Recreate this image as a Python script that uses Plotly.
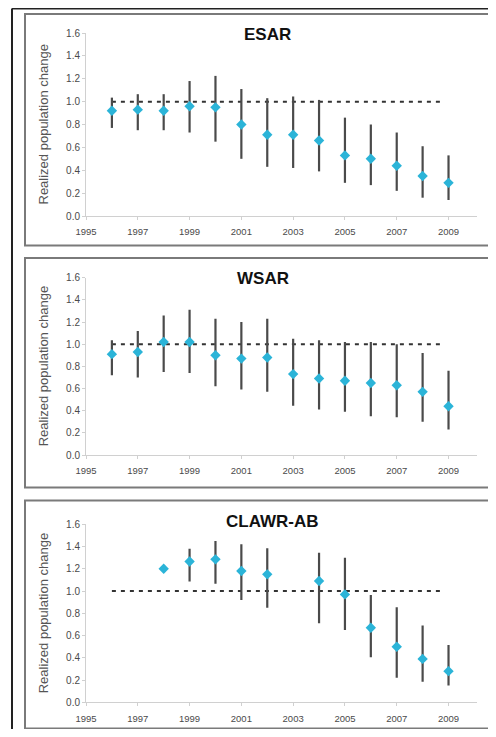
import plotly.graph_objects as go

# page is 496x737; the browser body keeps an 8px margin, so the figure is 480x721
PAGE_OFF = 8
W, H = 480, 721

years = list(range(1996, 2010))
tick_years = [1995, 1997, 1999, 2001, 2003, 2005, 2007, 2009]

esar_mean = [0.92, 0.93, 0.92, 0.96, 0.95, 0.80, 0.71, 0.71, 0.66, 0.53, 0.50, 0.44, 0.35, 0.29]
esar_upper = [1.035, 1.065, 1.065, 1.18, 1.225, 1.11, 1.03, 1.045, 1.015, 0.86, 0.80, 0.73, 0.61, 0.53]
esar_lower = [0.77, 0.75, 0.75, 0.73, 0.65, 0.50, 0.43, 0.42, 0.39, 0.29, 0.27, 0.22, 0.16, 0.14]

wsar_mean = [0.91, 0.93, 1.02, 1.02, 0.90, 0.87, 0.88, 0.73, 0.69, 0.67, 0.65, 0.63, 0.57, 0.44]
wsar_upper = [1.035, 1.12, 1.26, 1.31, 1.23, 1.20, 1.23, 1.05, 1.035, 1.02, 1.02, 1.00, 0.92, 0.76]
wsar_lower = [0.72, 0.70, 0.75, 0.74, 0.62, 0.59, 0.57, 0.445, 0.41, 0.39, 0.35, 0.34, 0.30, 0.23]

clawr_years = [1998, 1999, 2000, 2001, 2002, 2004, 2005, 2006, 2007, 2008, 2009]
clawr_mean = [1.20, 1.265, 1.285, 1.18, 1.15, 1.09, 0.97, 0.67, 0.50, 0.39, 0.28]
clawr_upper = [1.20, 1.38, 1.45, 1.42, 1.385, 1.345, 1.30, 0.965, 0.855, 0.69, 0.515]
clawr_lower = [1.20, 1.085, 1.065, 0.92, 0.85, 0.71, 0.65, 0.405, 0.22, 0.185, 0.15]

ref_x = [1996, 2008.8]
ref_y = [1.0, 1.0]

titles = ["ESAR", "WSAR", "CLAWR-AB"]


def px(x):
    return (x - PAGE_OFF) / W


def py(y):
    return 1 - (y - PAGE_OFF) / H


# page-pixel layout of each panel: (y of 0, y of 1.6, box top, box bottom, title y, title x)
panels = [
    (216, 33, 14, 245.5, 35, 267),
    (455, 277.7, 258, 487.5, 278, 263),
    (702.3, 524.3, 500.5, 728.5, 521, 272),
]
series = [
    (years, esar_mean, esar_upper, esar_lower),
    (years, wsar_mean, wsar_upper, wsar_lower),
    (clawr_years, clawr_mean, clawr_upper, clawr_lower),
]

x_left, x_right = 86, 477
font_family = "Liberation Sans, Arial, sans-serif"

fig = go.Figure()
layout = dict(
    width=W, height=H, margin=dict(l=0, r=0, t=0, b=0, autoexpand=False),
    paper_bgcolor="white", plot_bgcolor="white", showlegend=False,
    font=dict(family=font_family, color="#555"),
)
shapes = []
annotations = []

for i, ((y0px, y16px, btop, bbot, ty, tx), (xs, m, up, lo)) in enumerate(zip(panels, series)):
    n = "" if i == 0 else str(i + 1)
    xa = "x" + n
    ya = "y" + n
    plus = [u - v for u, v in zip(up, m)]
    minus = [v - l for v, l in zip(m, lo)]
    fig.add_trace(go.Scatter(
        x=ref_x, y=ref_y, mode="lines", xaxis=xa, yaxis=ya,
        line=dict(color="#333333", width=2, dash="4px,5px"), hoverinfo="skip"))
    fig.add_trace(go.Scatter(
        x=xs, y=m, mode="markers", xaxis=xa, yaxis=ya,
        marker=dict(symbol="diamond", size=8, color="#2bb4d8"),
        error_y=dict(type="data", array=plus, arrayminus=minus, symmetric=False,
                     color="#4a4a4a", thickness=2.2, width=0)))
    layout["xaxis" + n] = dict(
        domain=[px(x_left), px(x_right)], anchor=ya, range=[1995, 2010.1],
        tickvals=tick_years, ticktext=[str(t) for t in tick_years],
        showgrid=False, zeroline=False, showline=True, linecolor="#d0d0d0", linewidth=1,
        ticks="outside", ticklen=3, tickcolor="#d0d0d0", automargin=False,
        ticklabelstandoff=4,
        tickfont=dict(size=9.5, color="#4a4a4a", family=font_family), fixedrange=True)
    layout["yaxis" + n] = dict(
        domain=[py(y0px), py(y16px)], anchor=xa, range=[0, 1.6],
        tickvals=[0, 0.2, 0.4, 0.6, 0.8, 1.0, 1.2, 1.4, 1.6], tickformat=".1f",
        showgrid=False, zeroline=False, showline=True, linecolor="#d0d0d0", linewidth=1,
        ticks="outside", ticklen=3, tickcolor="#d0d0d0", automargin=False,
        tickfont=dict(size=10, color="#4a4a4a", family=font_family), fixedrange=True)
    # panel box
    shapes.append(dict(type="rect", xref="paper", yref="paper",
                       x0=px(25), x1=px(494), y0=py(bbot), y1=py(btop),
                       line=dict(color="#7a7a7a", width=2)))
    annotations.append(dict(text="<b>%s</b>" % titles[i], xref="paper", yref="paper",
                            x=px(tx), y=py(ty), xanchor="center", yanchor="middle",
                            showarrow=False,
                            font=dict(size=17, color="#111", family=font_family)))
    annotations.append(dict(text="Realized population change", xref="paper", yref="paper",
                            x=px(43), y=py((y0px + y16px) / 2), xanchor="center",
                            yanchor="middle", showarrow=False, textangle=-90,
                            font=dict(size=13, color="#555", family=font_family)))

# outer frame lines
shapes.append(dict(type="line", xref="paper", yref="paper", x0=px(12), x1=px(12),
                   y0=-0.01, y1=py(8.5), line=dict(color="#222", width=2)))
shapes.append(dict(type="line", xref="paper", yref="paper", x0=px(12), x1=1.01,
                   y0=py(8.5), y1=py(8.5), line=dict(color="#222", width=2)))

layout["shapes"] = shapes
layout["annotations"] = annotations
fig.update_layout(**layout)
fig.write_html("out.html")
